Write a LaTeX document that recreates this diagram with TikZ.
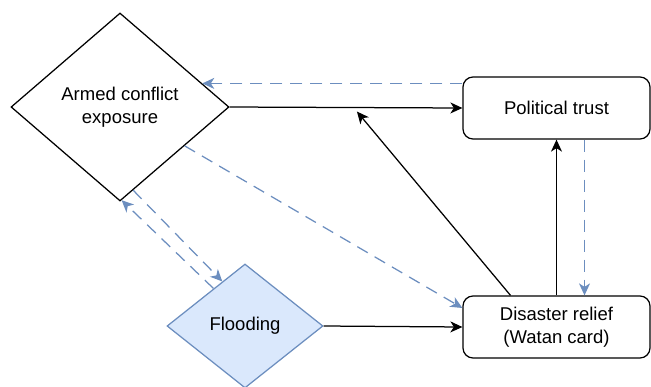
\documentclass[tikz,border=0pt]{standalone}
\usepackage{fontspec}
\setmainfont{Liberation Sans}
\usepackage{tikz}
\usetikzlibrary{calc,shapes.geometric,arrows.meta,positioning}
\definecolor{flowblue}{HTML}{6C8EBF}
\definecolor{floodfill}{HTML}{DAE8FC}

\begin{document}
\begin{tikzpicture}[x=1pt,y=-1pt,>={Stealth[length=12pt,width=11pt,inset=3.5pt]}]
		\tikzstyle{d1}=[diamond, draw, line width=1.25pt, inner sep=0pt, align=center, font=\fontsize{18.5}{23}\selectfont]
		\tikzstyle{d2}=[d1, draw=flowblue, fill=floodfill]
		\tikzstyle{b1}=[rectangle, rounded corners=10pt, draw, line width=1.25pt, minimum width=187pt, minimum height=62pt, align=center, font=\fontsize{18.5}{23}\selectfont]
		\tikzstyle{e1}=[->, line width=1.25pt]
		\tikzstyle{e2}=[->, line width=1.25pt, flowblue, dash pattern=on 12pt off 8pt]

		\useasboundingbox (0,0) rectangle (651,386);

		\node[d1, minimum width=218pt, minimum height=188pt] (N1) at (120,107) {Armed conflict\\exposure};
		\node[b1] (N2) at (556.5,108) {Political trust};
		\node[b1] (N3) at (556.5,327) {Disaster relief\\(Watan card)};
		\node[d2, minimum width=156pt, minimum height=124pt] (N4) at (245,326) {Flooding};
		\coordinate (C1) at ($(N1.east)!0.547!(N2.west)+(0,4)$);

		\draw [e1] (N1.east) to (N2.west);
		\draw [e1] ([xshift=-46pt]N3.north) to (C1);
		\draw [e1] (N3.north) to (N2.south);
		\draw [e1] (N4.east) to (N3.west);

		\draw [e2] (N1.16.5 -| N2.west) to (N1.16.5);
		\draw [e2] ([xshift=28pt]N2.south) to ([xshift=28pt]N3.north);
		\draw [e2] (N1.-31) to ([yshift=19pt]N3.west);
		\draw [e2] (N1.-81) to (N4.117.6);
		\draw [e2] (N4.130.9) to (N1.-89);
    \end{tikzpicture}
\end{document}
